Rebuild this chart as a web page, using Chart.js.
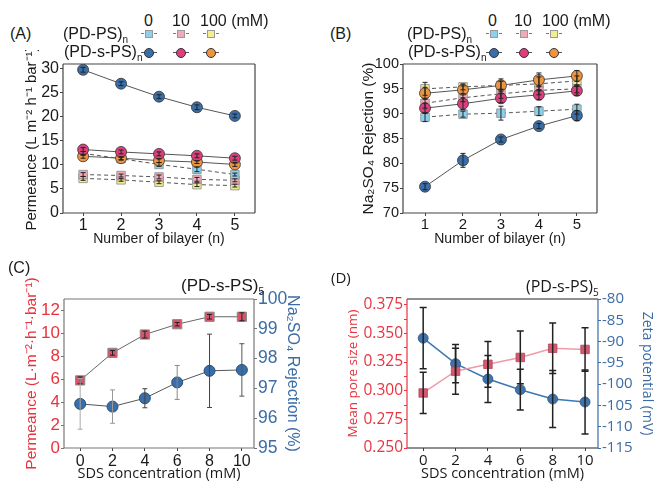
<!DOCTYPE html>
<html lang="en">
<head>
<meta charset="UTF-8">
<title>(PD-PS)n and (PD-s-PS)n membranes</title>
<script src="https://cdn.jsdelivr.net/npm/chart.js"></script>
<style>
  html, body { margin: 0; padding: 0; background: #fff; }
  body { width: 654px; height: 481px; overflow: hidden; position: relative;
         font-family: "Liberation Sans", Arial, sans-serif; color: #1a1a1a; }
  canvas { position: absolute; }
  .txt { position: absolute; font-size: 16px; line-height: 16px; white-space: nowrap; }
  .txt sub { font-size: 10px; vertical-align: -4px; line-height: 0; }
  .mk { position: absolute; width: 16px; height: 0; }
  .sq { position: absolute; left: 4px; top: -4.5px; width: 8px; height: 8px; box-sizing: border-box; border: 1px solid #999; }
  .ci { position: absolute; left: 3px; top: -5.5px; width: 10px; height: 10px; box-sizing: border-box; border-radius: 50%; border: 1px solid #333; }
</style>
</head>
<body>
<canvas id="chartA" width="275" height="200" style="left:0;top:50px"></canvas>
<canvas id="chartB" width="290" height="200" style="left:330px;top:50px"></canvas>
<canvas id="chartC" width="330" height="215" style="left:0;top:270px"></canvas>
<canvas id="chartD" width="330" height="215" style="left:330px;top:270px"></canvas>

<div class="txt" style="left:10px;top:26px">(A)</div>
<div class="txt" style="left:330px;top:26px">(B)</div>
<div class="txt" style="left:8px;top:260px">(C)</div>
<div class="txt" style="left:331px;top:269px;font-family:'Open Sans',sans-serif;font-size:15px">(D)</div>
<div class="txt" style="left:181px;top:278px;font-size:17px">(PD-s-PS)<sub>5</sub></div>
<div class="txt" style="left:526px;top:278px;font-family:'Open Sans',sans-serif;font-size:16px">(PD-s-PS)<sub>5</sub></div>

<script>
// ---- data ----
const bilayers = [1, 2, 3, 4, 5];
const sdsConc = [0, 2, 4, 6, 8, 10];
const saltLabels = ['0', '10', '100 (mM)'];
const saltColors = ['#8dd0ee', '#f2a9b9', '#f3ee8c'];      // (PD-PS)n squares
const saltColorsS = ['#3a6ea8', '#dc3f7c', '#ec9440'];     // (PD-s-PS)n circles

// (A) permeance, L m-2 h-1 bar-1
const permPS = [
  [12.4, 11.3, 10.1, 9.1, 8.0],
  [8.0, 7.8, 7.5, 7.0, 6.8],
  [7.2, 6.9, 6.4, 5.9, 5.7]
];
const permPSErr = [
  [0.4, 0.3, 0.4, 0.5, 0.3],
  [0.4, 0.3, 0.4, 0.4, 0.3],
  [0.4, 0.3, 0.3, 0.4, 0.3]
];
const permSPS = [
  [29.8, 26.9, 24.2, 22.0, 20.2],
  [13.2, 12.7, 12.3, 11.9, 11.4],
  [11.8, 11.4, 10.9, 10.6, 10.1]
];
const permSPSErr = [
  [0.5, 0.4, 0.4, 0.5, 0.4],
  [0.4, 0.4, 0.4, 0.4, 0.4],
  [0.4, 0.3, 0.4, 0.3, 0.4]
];

// (B) Na2SO4 rejection, %
const rejPS = [
  [89.3, 89.9, 90.1, 90.5, 90.9],
  [92.1, 93.2, 94.0, 94.7, 95.0],
  [95.0, 95.4, 95.7, 96.0, 96.6]
];
const rejPSErr = [
  [0.9, 0.6, 1.4, 0.9, 1.0],
  [1.0, 0.8, 0.9, 0.9, 0.8],
  [1.3, 0.6, 0.8, 1.4, 1.0]
];
const rejSPS = [
  [75.3, 80.6, 84.8, 87.5, 89.6],
  [91.1, 92.0, 93.1, 93.8, 94.6],
  [94.1, 94.8, 95.7, 96.8, 97.6]
];
const rejSPSErr = [
  [0.6, 1.4, 0.5, 0.5, 1.0],
  [1.0, 1.2, 0.9, 1.0, 0.9],
  [1.2, 0.8, 1.3, 1.4, 1.1]
];

// (C) (PD-s-PS)5 vs SDS
const permSDS = [5.9, 8.3, 9.9, 10.8, 11.45, 11.45];
const permSDSErr = [0.3, 0.2, 0.3, 0.15, 0.2, 0.35];
const rejSDS = [96.48, 96.39, 96.67, 97.2, 97.59, 97.62];
const rejSDSErr = [0.85, 0.56, 0.32, 0.57, 1.23, 0.88];

// (D) pore size and zeta potential vs SDS
const poreSDS = [0.298, 0.317, 0.323, 0.329, 0.337, 0.336];
const poreSDSErr = [0.018, 0.02, 0.02, 0.023, 0.022, 0.019];
const zetaSDS = [-89.2, -95.2, -98.8, -101.3, -103.5, -104.2];
const zetaSDSErr = [7.2, 4.5, 5.5, 4.8, 6.7, 7.5];

// ---- helpers ----
const ARIAL = '"Liberation Sans", Arial, sans-serif';
const OPEN = '"Open Sans", sans-serif';
const RED = '#e8333f';
const BLUE = '#3b6ca5';

const pts = (xs, ys) => xs.map((x, i) => ({ x: x, y: ys[i] }));

const errorBars = {
  id: 'errorBars',
  afterDatasetsDraw(chart) {
    const ctx = chart.ctx;
    chart.data.datasets.forEach((ds, i) => {
      if (!ds.errors) return;
      const meta = chart.getDatasetMeta(i);
      const ys = chart.scales[meta.yAxisID];
      const cap = ds.capSize || 3;
      ctx.save();
      ctx.lineWidth = ds.errorWidth || 1;
      meta.data.forEach((p, j) => {
        const v = ds.data[j].y, e = ds.errors[j];
        const y1 = ys.getPixelForValue(v + e), y2 = ys.getPixelForValue(v - e);
        ctx.strokeStyle = Array.isArray(ds.errorColor) ? ds.errorColor[j] : (ds.errorColor || '#222');
        ctx.beginPath();
        ctx.moveTo(p.x, y1); ctx.lineTo(p.x, y2);
        ctx.moveTo(p.x - cap, y1); ctx.lineTo(p.x + cap, y1);
        ctx.moveTo(p.x - cap, y2); ctx.lineTo(p.x + cap, y2);
        ctx.stroke();
      });
      ctx.restore();
    });
  }
};

const frame = {
  id: 'frame',
  afterDraw(chart, args, opts) {
    const { left, right, top, bottom } = chart.chartArea;
    const ctx = chart.ctx;
    const side = (c, x1, y1, x2, y2) => {
      ctx.beginPath(); ctx.strokeStyle = c; ctx.moveTo(x1, y1); ctx.lineTo(x2, y2); ctx.stroke();
    };
    ctx.save();
    ctx.lineWidth = opts.width || 1.2;
    side(opts.top || '#444', left, top, right, top);
    side(opts.bottom || '#444', left, bottom, right, bottom);
    side(opts.left || '#444', left, top, left, bottom);
    side(opts.right || '#444', right, top, right, bottom);
    ctx.restore();
  }
};

function axis(o) {
  return {
    type: 'linear',
    position: o.position,
    min: o.min,
    max: o.max,
    afterFit: s => { if (s.isHorizontal()) s.height = o.size; else s.width = o.size; },
    border: { display: false },
    grid: { drawOnChartArea: false, drawTicks: true, tickLength: 3, color: o.tickColor || '#444' },
    ticks: {
      stepSize: o.step, includeBounds: false, autoSkip: false, maxRotation: 0,
      padding: o.pad === undefined ? 1 : o.pad,
      color: o.color || '#1a1a1a',
      font: { family: o.family || ARIAL, size: o.fontSize || 14 },
      callback: o.fmt || (v => v)
    },
    title: {
      display: true, text: o.title, color: o.color || '#1a1a1a',
      font: { family: o.titleFamily || o.family || ARIAL, size: o.titleSize || 14 },
      padding: o.titlePad
    }
  };
}

function baseOptions(pad, scales, frameOpts) {
  return {
    responsive: false,
    animation: false,
    layout: { padding: pad },
    scales: scales,
    plugins: { legend: { display: false }, tooltip: { enabled: false }, frame: frameOpts || {} }
  };
}

function seriesSet(values, errors, colors, square) {
  return values.map((v, k) => ({
    data: pts(bilayers, v),
    errors: errors[k],
    borderColor: '#555',
    borderWidth: 1,
    borderDash: square ? [4, 3] : [],
    pointStyle: square ? 'rect' : 'circle',
    pointRadius: square ? 6 : 5.5,
    pointBackgroundColor: colors[k],
    pointBorderColor: square ? '#888' : '#333',
    pointBorderWidth: 0.8,
    errorColor: '#222',
    capSize: 2.5
  }));
}

// ---- (A) ----
new Chart(document.getElementById('chartA'), {
  type: 'line',
  data: { datasets: seriesSet(permSPS, permSPSErr, saltColorsS, false).concat(seriesSet(permPS, permPSErr, saltColors, true)) },
  options: baseOptions({ top: 14, right: 20, left: 0, bottom: 0 }, {
    x: axis({ position: 'bottom', min: 0.47, max: 5.53, step: 1, size: 37, fontSize: 16, pad: 0, title: 'Number of bilayer (n)', titleSize: 14, titlePad: { top: 0, bottom: 2 } }),
    y: axis({ position: 'left', min: 0, max: 31, step: 5, size: 63, fontSize: 16, pad: 1, title: 'Permeance (L m\u207B\u00B2 h\u207B\u00B9 bar\u207B\u00B9)', titleSize: 15, titlePad: { top: 23, bottom: 0 } })
  }),
  plugins: [errorBars, frame]
});

// ---- (B) ----
new Chart(document.getElementById('chartB'), {
  type: 'line',
  data: { datasets: seriesSet(rejSPS, rejSPSErr, saltColorsS, false).concat(seriesSet(rejPS, rejPSErr, saltColors, true)) },
  options: baseOptions({ top: 14, right: 23, left: 0, bottom: 0 }, {
    x: axis({ position: 'bottom', min: 0.42, max: 5.53, step: 1, size: 37, fontSize: 15, pad: 0, title: 'Number of bilayer (n)', titleSize: 14, titlePad: { top: 0, bottom: 2 } }),
    y: axis({ position: 'left', min: 70, max: 100, step: 5, size: 73, fontSize: 14.5, pad: 1, title: 'Na\u2082SO\u2084 Rejection (%)', titleSize: 15.5, titlePad: { top: 29, bottom: 0 } })
  }),
  plugins: [errorBars, frame]
});

// ---- (C) ----
new Chart(document.getElementById('chartC'), {
  type: 'line',
  data: {
    datasets: [
      {
        data: pts(sdsConc, permSDS), errors: permSDSErr, yAxisID: 'y',
        borderColor: '#666', borderWidth: 1, pointStyle: 'rect', pointRadius: 6.5,
        pointBackgroundColor: '#d9536b', pointBorderColor: '#888', pointBorderWidth: 1,
        errorColor: '#222', capSize: 2.5
      },
      {
        data: pts(sdsConc, rejSDS), errors: rejSDSErr, yAxisID: 'y2',
        borderColor: '#555', borderWidth: 1, pointStyle: 'circle', pointRadius: 5.5,
        pointBackgroundColor: '#3a6ea8', pointBorderColor: '#2b4d75', pointBorderWidth: 1,
        errorColor: ['#aaa', '#999', '#444', '#888', '#444', '#555'], capSize: 2.5
      }
    ]
  },
  options: baseOptions({ top: 29, right: 0, left: 0, bottom: 0 }, {
    x: axis({ position: 'bottom', min: -1, max: 10.75, step: 2, size: 37, pad: 1, fontSize: 16, title: 'SDS concentration (mM)', titleFamily: OPEN, titleSize: 14.5, titlePad: { top: 0, bottom: 2 } }),
    y: axis({ position: 'left', min: 0, max: 13, step: 2, size: 64, pad: 1, fontSize: 17, color: RED, tickColor: '#777', titleSize: 15.5, title: 'Permeance (L\u00B7m\u207B\u00B2\u00B7h\u207B\u00B9\u00B7bar\u207B\u00B9)', titlePad: { top: 22, bottom: 0 } }),
    y2: axis({ position: 'right', min: 95, max: 100, step: 1, size: 76, pad: 1, color: BLUE, tickColor: '#777', fontSize: 17.5, titleSize: 16, title: 'Na\u2082SO\u2084 Rejection (%)', titlePad: { top: 28, bottom: 0 } })
  }, { left: '#777', right: '#777', top: '#777', bottom: '#777' }),
  plugins: [errorBars, frame]
});

// ---- (D) ----
new Chart(document.getElementById('chartD'), {
  type: 'line',
  data: {
    datasets: [
      {
        data: pts(sdsConc, poreSDS), errors: poreSDSErr, yAxisID: 'y',
        borderColor: '#f09aa8', borderWidth: 1.5, pointStyle: 'rect', pointRadius: 6,
        pointBackgroundColor: '#d5586e', pointBorderColor: '#b04458', pointBorderWidth: 0.8,
        errorColor: '#222', errorWidth: 1.5, capSize: 3.5
      },
      {
        data: pts(sdsConc, zetaSDS), errors: zetaSDSErr, yAxisID: 'y2',
        borderColor: '#3c77b4', borderWidth: 1.5, pointStyle: 'circle', pointRadius: 5,
        pointBackgroundColor: '#4172a8', pointBorderColor: '#2f5886', pointBorderWidth: 0.8,
        errorColor: '#222', errorWidth: 1.5, capSize: 3.5
      }
    ]
  },
  options: baseOptions({ top: 29, right: 0, left: 0, bottom: 0 }, {
    x: axis({ position: 'bottom', min: -1, max: 10.8, step: 2, size: 37, pad: 1, fontSize: 15, family: OPEN, title: 'SDS concentration (mM)', titleSize: 14.5, titlePad: { top: 0, bottom: 2 } }),
    y: axis({ position: 'left', min: 0.25, max: 0.38, step: 0.0125, size: 77, pad: 1, fontSize: 15.5, family: OPEN, color: RED, tickColor: RED,
              fmt: (v, i) => i % 2 === 0 ? v.toFixed(3) : '', title: 'Mean pore size (nm)', titleSize: 13.5, titlePad: { top: 15, bottom: 0 } }),
    y2: axis({ position: 'right', min: -115, max: -80, step: 5, size: 62, pad: 1, fontSize: 15, family: OPEN, color: BLUE, tickColor: BLUE, title: 'Zeta potential (mV)', titleSize: 14, titlePad: { top: 4.5, bottom: 0 } })
  }, { left: RED, right: BLUE, top: '#222', bottom: '#222' }),
  plugins: [errorBars, frame]
});

// ---- legends for (A) and (B) ----
function addText(x, y, html) {
  const d = document.createElement('div');
  d.className = 'txt';
  d.style.left = x + 'px';
  d.style.top = (y - 8) + 'px';
  d.innerHTML = html;
  document.body.appendChild(d);
}
function addMarker(x, y, color, square) {
  const m = document.createElement('div');
  m.className = 'mk';
  m.style.left = (x - 8) + 'px';
  m.style.top = y + 'px';
  m.style.borderTop = square ? '1px dashed #777' : '1px solid #555';
  const s = document.createElement('div');
  s.className = square ? 'sq' : 'ci';
  s.style.background = color;
  m.appendChild(s);
  document.body.appendChild(m);
}
function legend(rowX, colX, headX) {
  saltLabels.forEach((t, k) => addText(headX[k], 21, t));
  addText(rowX, 34, '(PD-PS)<sub>n</sub>');
  addText(rowX + 1, 52, '(PD-s-PS)<sub>n</sub>');
  colX.forEach((x, k) => {
    addMarker(x, 33, saltColors[k], true);
    addMarker(x, 52, saltColorsS[k], false);
  });
}
legend(63, [149, 181, 211], [144, 172, 200]);
legend(407, [494, 524, 554], [488, 514, 542]);
</script>
</body>
</html>
